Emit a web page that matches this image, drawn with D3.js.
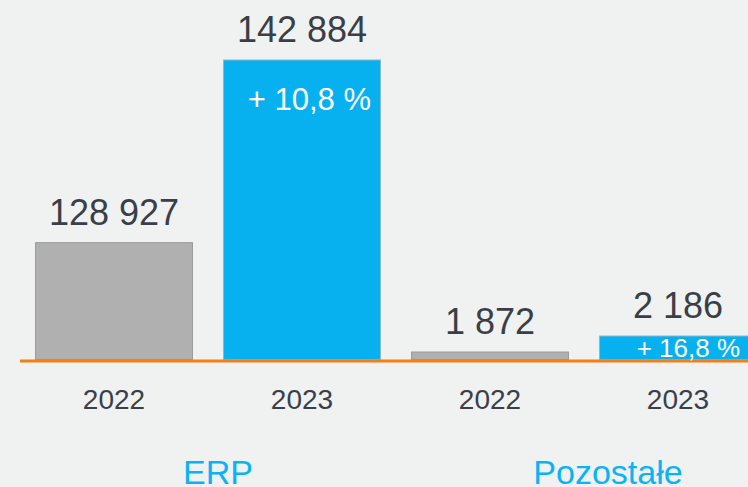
<!DOCTYPE html>
<html>
<head>
<meta charset="utf-8">
<script src="https://cdn.jsdelivr.net/npm/d3@7"></script>
<style>
  html, body { margin: 0; padding: 0; background: #f0f1f1; }
  svg { display: block; font-family: "Liberation Sans", Arial, sans-serif; }
</style>
</head>
<body>
<svg id="vis" width="748" height="487"></svg>
<script>
// data
const groups = ["ERP", "Pozostałe"];
const years = ["2022", "2023"];
const erpValues = [128927, 142884];
const otherValues = [1872, 2186];
const changeLabels = ["+ 10,8 %", "+ 16,8 %"];

const WIDTH = 748, HEIGHT = 487;
const BASE = 359.5;   // bottom of the bars

const svg = d3.select("#vis");

// flat list of bars, one per group/year
const bars = [];
groups.forEach(function(g, gi){
    const vals = gi === 0 ? erpValues : otherValues;
    years.forEach(function(y, yi){
        bars.push({key: g + "-" + y, group: g, gi: gi, year: y, yi: yi, value: vals[yi]});
    });
});

const x = d3.scaleBand()
    .domain(bars.map(d => d.key))
    .range([20, 772])
    .paddingInner(0.16)
    .paddingOuter(0.08);

// each group has its own (truncated) value scale
const yScales = [
    d3.scaleLinear().domain([120000, 142884]).range([BASE, 60]),
    d3.scaleLinear().domain([1725, 2186]).range([BASE, 336])
];

svg.append("rect")
    .attr("width", WIDTH).attr("height", HEIGHT)
    .attr("fill", "#f0f1f1");

// bars
svg.selectAll("rect.bar")
    .data(bars)
    .enter()
    .append("rect")
    .attr("class", "bar")
    .attr("x", d => x(d.key) + 0.5)
    .attr("y", d => yScales[d.gi](d.value))
    .attr("width", x.bandwidth() - 1)
    .attr("height", d => BASE - yScales[d.gi](d.value))
    .attr("fill", d => d.yi === 0 ? "#b0b0b0" : "#07b0ef")
    .attr("stroke", d => d.yi === 0 ? "#9a9a9a" : "#8ab8cc")
    .attr("stroke-width", 1);

// orange baseline
svg.append("line")
    .attr("x1", 20).attr("x2", WIDTH)
    .attr("y1", 361).attr("y2", 361)
    .attr("stroke", "#f57d12")
    .attr("stroke-width", 3);

// value labels above bars
svg.selectAll("text.value")
    .data(bars)
    .enter()
    .append("text")
    .attr("class", "value")
    .attr("x", d => x(d.key) + x.bandwidth() / 2)
    .attr("y", d => yScales[d.gi](d.value) - 18)
    .attr("text-anchor", "middle")
    .attr("fill", "#3a3f47")
    .style("font-size", "36px")
    .text(d => d3.format(",")(d.value).replace(/,/g, " "));

// change labels inside the 2023 bars
const newer = bars.filter(d => d.yi === 1);
svg.selectAll("text.change")
    .data(newer)
    .enter()
    .append("text")
    .attr("class", "change")
    .attr("x", d => Math.min(x(d.key) + x.bandwidth(), WIDTH) - (d.gi === 0 ? 10 : 8))
    .attr("y", d => d.gi === 0 ? yScales[0](d.value) + 50 : BASE - 2.5)
    .attr("text-anchor", "end")
    .attr("fill", "#ffffff")
    .style("font-size", d => d.gi === 0 ? "31px" : "26px")
    .text(d => changeLabels[d.gi]);

// year axis
const xAxis = d3.axisBottom(x)
    .tickSize(0)
    .tickPadding(28)
    .tickFormat(k => k.split("-")[1]);

const axisG = svg.append("g")
    .attr("transform", `translate(0, 361)`)
    .call(xAxis);
axisG.select(".domain").remove();
axisG.selectAll("text")
    .attr("fill", "#3a3f47")
    .style("font-family", "'Liberation Sans', Arial, sans-serif")
    .style("font-size", "28px");

// group names
svg.selectAll("text.group")
    .data(groups)
    .enter()
    .append("text")
    .attr("class", "group")
    .attr("x", function(g, gi){
        const a = x(g + "-" + years[0]), b = x(g + "-" + years[1]);
        return (a + b + x.bandwidth()) / 2 + (gi === 0 ? 10 : 24);
    })
    .attr("y", 484)
    .attr("text-anchor", "middle")
    .attr("fill", "#0ab4f4")
    .style("font-size", "34px")
    .text(d => d);
</script>
</body>
</html>
